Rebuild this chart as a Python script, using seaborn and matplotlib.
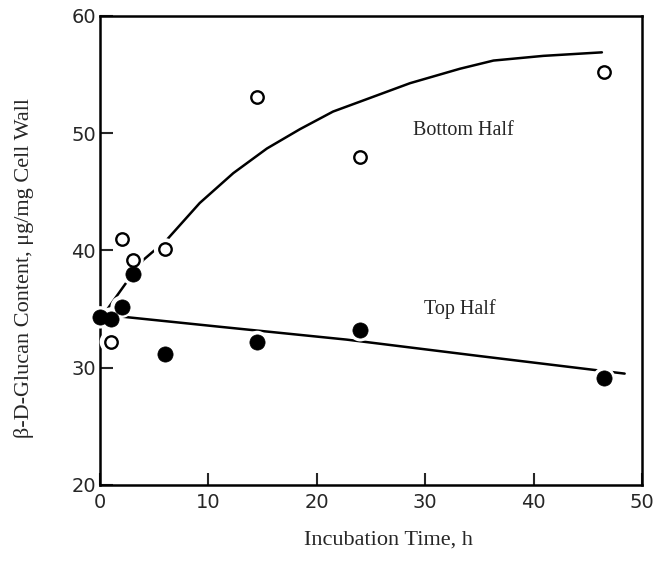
import numpy as np
import pandas as pd
import matplotlib
matplotlib.use("Agg")
import matplotlib.pyplot as plt
import seaborn as sns

# ---- data ----
times_top = [0, 1, 2, 3, 6, 14.5, 24, 46.5]
top_half = [34.3, 34.2, 35.2, 38.0, 31.2, 32.2, 33.2, 29.1]

times_bottom = [1, 2, 3, 6, 14.5, 24, 46.5]
bottom_half = [32.2, 41.0, 39.2, 40.1, 53.1, 48.0, 55.2]

# hand-drawn trend curves
curve_bottom_x = [0.3, 2.3, 4.0, 6.15, 9.2, 12.3, 15.4, 18.45, 21.5, 24.0, 28.6, 33.2, 36.3, 40.9, 46.3]
curve_bottom_y = [34.5, 37.1, 39.2, 40.9, 44.05, 46.6, 48.7, 50.35, 51.85, 52.7, 54.27, 55.5, 56.2, 56.6, 56.9]
curve_top_x = [0.0, 11.0, 22.75, 35.0, 48.4]
curve_top_y = [34.55, 33.5, 32.4, 31.0, 29.5]

x_ticks = [0, 10, 20, 30, 40, 50]
y_ticks = [20, 30, 40, 50, 60]

sns.set_style("white")
plt.rcParams['font.family'] = ['DejaVu Sans']

fig = plt.figure(figsize=(6.63, 5.63), dpi=100)
ax = fig.add_axes([100/663, 1-485/563, (642-100)/663, (485-16)/563])

cb = pd.DataFrame({"t": curve_bottom_x, "v": curve_bottom_y})
ct = pd.DataFrame({"t": curve_top_x, "v": curve_top_y})
sns.lineplot(data=cb, x="t", y="v", sort=False, estimator=None, color="black", lw=1.8, ax=ax, zorder=2)
sns.lineplot(data=ct, x="t", y="v", sort=False, estimator=None, color="black", lw=1.8, ax=ax, zorder=2)

dt = pd.DataFrame({"t": times_top, "v": top_half})
db = pd.DataFrame({"t": times_bottom, "v": bottom_half})

# white halos that break the lines near markers
for d in (dt, db):
    sns.scatterplot(data=d, x="t", y="v", s=260, color="white", edgecolor="none",
                    linewidth=0, ax=ax, zorder=3, clip_on=False)

sns.scatterplot(data=db, x="t", y="v", s=80, facecolor="white", edgecolor="black",
                linewidth=1.7, ax=ax, zorder=4, clip_on=False)
sns.scatterplot(data=dt, x="t", y="v", s=120, color="black", edgecolor="black",
                linewidth=0.5, ax=ax, zorder=5, clip_on=False)

ax.text(33.5, 50.2, "Bottom Half", family="Liberation Serif", fontsize=14.5,
        ha="center", va="center")
ax.text(33.2, 35.0, "Top Half", family="Liberation Serif", fontsize=14.5,
        ha="center", va="center")

ax.set_xlim(0, 50)
ax.set_ylim(20, 60)
ax.set_xticks(x_ticks)
ax.set_yticks(y_ticks)
ax.tick_params(direction="in", length=9, width=1.5, labelsize=14, pad=3,
               left=True, bottom=True, top=False, right=False)
ax.tick_params(axis="x", pad=6)
for s in ax.spines.values():
    s.set_visible(True)
    s.set_color("black")
    s.set_linewidth(1.8)

ax.set_xlabel("Incubation Time, h", family="Liberation Serif", fontsize=16)
ax.set_ylabel("β-D-Glucan Content, μg/mg Cell Wall", family="Liberation Serif", fontsize=16)
ax.xaxis.set_label_coords((388-100)/542, -(531-485)/469)
ax.yaxis.set_label_coords(-(100-34)/542, (485-268)/469)

fig.savefig("out.png", dpi=100, facecolor="white")
